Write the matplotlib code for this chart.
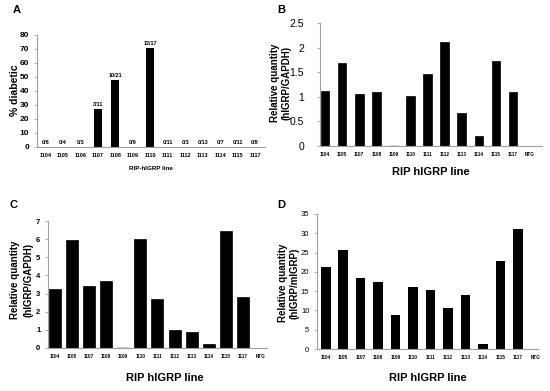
import matplotlib
matplotlib.use("Agg")
import matplotlib.pyplot as plt
import numpy as np

plt.rcParams['font.family'] = ['Liberation Sans', 'DejaVu Sans']

# ---- data ----
lines_a = ["1104", "1105", "1106", "1107", "1108", "1109", "1110", "1111",
           "1112", "1113", "1114", "1115", "1117"]
pct_diabetic = [0, 0, 0, 27.3, 47.6, 0, 70.6, 0, 0, 0, 0, 0, 0]
fractions = ["0/6", "0/4", "0/3", "3/11", "10/21", "0/9", "12/17", "0/11",
             "0/3", "0/13", "0/7", "0/11", "0/8"]

lines_bcd = ["1104", "1105", "1107", "1108", "1109", "1110", "1111", "1112",
             "1113", "1114", "1115", "1117", "NTG"]
b_vals = [1.12, 1.68, 1.06, 1.10, 0.02, 1.02, 1.47, 2.12, 0.67, 0.21, 1.72, 1.10, 0]
c_vals = [3.25, 5.93, 3.40, 3.72, 0.05, 6.00, 2.70, 0.98, 0.87, 0.23, 6.43, 2.83, 0]
d_vals = [21.3, 25.7, 18.4, 17.5, 8.9, 16.0, 15.2, 10.7, 14.1, 1.4, 22.9, 31.2, 0]

W, H = 550, 391
fig = plt.figure(figsize=(W / 100, H / 100), dpi=100)

def rect(l, t, r, b):
    return [l / W, 1 - b / H, (r - l) / W, (b - t) / H]

spine_col = '#a0a0a0'

def style(ax, ylim, yticks, ytick_fs, ytick_bold, xlabels, xfs, xlim, ypad=2):
    ax.set_ylim(*ylim)
    ax.set_xlim(*xlim)
    ax.set_yticks(yticks)
    fmt = [('%g' % v) for v in yticks]
    ax.set_yticklabels(fmt, fontsize=ytick_fs,
                       fontweight='bold' if ytick_bold else 'normal')
    ax.set_xticks(np.arange(len(xlabels)))
    ax.set_xticklabels(xlabels, fontsize=xfs, fontweight='bold')
    for s in ['top', 'right']:
        ax.spines[s].set_visible(False)
    for s in ['left', 'bottom']:
        ax.spines[s].set_color(spine_col)
        ax.spines[s].set_linewidth(0.8)
    ax.tick_params(axis='y', length=2.5, width=0.6, color=spine_col, pad=ypad)
    ax.tick_params(axis='x', length=0, pad=4)

def ylab(x, y, txt):
    fig.text(x / W, 1 - y / H, txt, rotation=90, ha='center', va='center',
             fontsize=7, fontweight='bold')

# Panel A
axA = fig.add_axes(rect(37, 35, 265, 147))
x = np.arange(len(lines_a))
axA.bar(x, pct_diabetic, width=0.44, color='black')
style(axA, (0, 80), range(0, 81, 10), 6, True, lines_a, 4.0, (-0.48, 12.57), ypad=3)
for xi, v, t in zip(x, pct_diabetic, fractions):
    axA.text(xi, v + 1.5, t, ha='center', va='bottom', fontsize=4.0, fontweight='bold')
fig.text(15 / W, 1 - 90 / H, "% diabetic", rotation=90, ha='center', va='center',
         fontsize=7.5, fontweight='bold')
fig.text(151 / W, 1 - 169 / H, "RIP-hIGRP line", ha='center', va='center',
         fontsize=4.5, fontweight='bold')
fig.text(17 / W, 1 - 10 / H, "A", ha='center', va='center', fontsize=8, fontweight='bold')

# Panel B
axB = fig.add_axes(rect(320, 23, 542, 146))
xb = np.arange(len(lines_bcd))
cols_b = ['black'] * len(b_vals)
cols_b[4] = '#d0d0d0'
axB.bar(xb, b_vals, width=0.5, color=cols_b, edgecolor=cols_b, linewidth=0.5)
style(axB, (0, 2.5), [0, 0.5, 1, 1.5, 2, 2.5], 7.5, False, lines_bcd, 3.3, (-0.3, 12.7), ypad=9)
ylab(275, 83, "Relative quantity")
ylab(286, 83, "(hIGRP/GAPDH)")
fig.text(431 / W, 1 - 172 / H, "RIP hIGRP line", ha='center', va='center',
         fontsize=8, fontweight='bold')
fig.text(281 / W, 1 - 10 / H, "B", ha='center', va='center', fontsize=8, fontweight='bold')

# Panel C
axC = fig.add_axes(rect(48, 221, 267, 348))
cols_c = ['black'] * len(c_vals)
cols_c[4] = '#c8c8c8'
axC.bar(xb, c_vals, width=0.7, color=cols_c, edgecolor=cols_c, linewidth=0.5)
style(axC, (0, 7), range(0, 8), 5.5, True, lines_bcd, 3.3, (-0.39, 12.4), ypad=3)
ylab(15, 280, "Relative quantity")
ylab(28, 280, "(hIGRP/GAPDH)")
fig.text(165 / W, 1 - 378 / H, "RIP hIGRP line", ha='center', va='center',
         fontsize=8, fontweight='bold')
fig.text(13 / W, 1 - 205 / H, "C", ha='center', va='center', fontsize=8, fontweight='bold')

# Panel D
axD = fig.add_axes(rect(317, 214, 538, 349))
axD.bar(xb, d_vals, width=0.55, color='black')
style(axD, (0, 35), range(0, 36, 5), 5.5, False, lines_bcd, 3.3, (-0.5, 12.15), ypad=3)
ylab(283, 283, "Relative quantity")
ylab(294, 283, "(hIGRP/mIGRP)")
fig.text(428 / W, 1 - 378 / H, "RIP hIGRP line", ha='center', va='center',
         fontsize=8, fontweight='bold')
fig.text(281 / W, 1 - 205 / H, "D", ha='center', va='center', fontsize=8, fontweight='bold')

fig.savefig("out.png", dpi=100)
